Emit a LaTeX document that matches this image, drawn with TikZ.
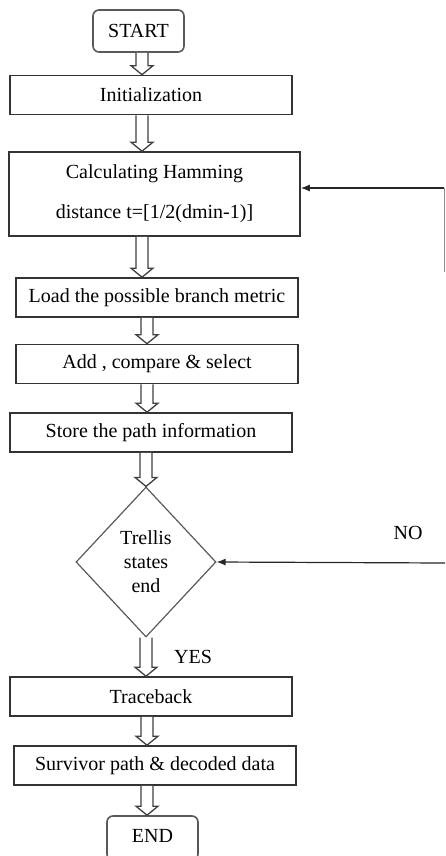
\documentclass[tikz,border=0pt]{standalone}
\usepackage{fontspec}
\setmainfont{Liberation Serif}
\usetikzlibrary{shapes.geometric,arrows.meta,calc}
\tikzset{
  box/.style={draw=black!80, line width=1.6pt, minimum width=282pt, minimum height=39pt, inner sep=0pt, fill=white},
  term/.style={draw=black!65, line width=1.6pt, rounded corners=6pt, minimum width=91pt, minimum height=42pt, inner sep=0pt},
  dec/.style={draw=black!65, line width=1.2pt, diamond, minimum width=140pt, minimum height=150pt, inner sep=0pt, align=center},
  harr/.style={draw=black!75, line width=1.3pt, fill=white, line join=miter},
  fb/.style={draw=black!85, line width=1.2pt},
  lbl/.style={inner sep=0pt},
}
\newcommand{\harrow}[3]{%
  \draw[harr] let \p1=(#1.south), \p2=(#2.north) in
   (#3pt-6pt,\y1) -- (#3pt-6pt,\y2+9pt) -- (#3pt-11pt,\y2+9pt) -- (#3pt,\y2)
   -- (#3pt+11pt,\y2+9pt) -- (#3pt+6pt,\y2+9pt) -- (#3pt+6pt,\y1);}
\begin{document}
\begin{tikzpicture}[x=1pt,y=-1pt, font=\fontsize{20}{24}\selectfont]
\useasboundingbox (0,0) rectangle (445,856);
\node[term] (start) at (138.5,31) {START};
\node[box] (init) at (151,95) {Initialization};
\node[box, minimum width=291pt, minimum height=84pt, align=center] (calc) at (154.5,194) {Calculating Hamming\\[16pt]distance t=[1/2(dmin-1)]};
\node[box] (load) at (157,297.5) {Load the possible branch metric};
\node[box] (add) at (157,364) {Add , compare \& select};
\node[box] (store) at (151,432.5) {Store the path information};
\node[dec] (dec) at (146,562) {Trellis\\states\\end};
\node[box] (trace) at (151,696.5) {Traceback};
\node[box] (surv) at (155,765.5) {Survivor path \& decoded data};
\node[term, minimum height=44pt] (end) at (152.5,838) {\raisebox{4pt}{END}};

\harrow{start}{init}{142}
\harrow{init}{calc}{142}
\harrow{calc}{load}{142}
\harrow{load}{add}{147}
\harrow{add}{store}{147}
\harrow{store}{dec}{146}
\harrow{dec}{trace}{146}
\harrow{trace}{surv}{147}
\harrow{surv}{end}{147}

\coordinate (fbtop) at (444,188);
\coordinate (fbbot) at (444,272);
\coordinate (nostart) at (445,563);
\draw[draw=black!45, line width=1pt] (fbbot) -- (fbtop);
\draw[fb, -{Latex[length=9pt,width=7pt]}] (fbtop) -- (fbtop -| calc.east);
\draw[fb, -{Latex[length=9pt,width=7pt]}] (nostart) -- (dec.east);
\node[lbl] (no) at (408,533) {NO};
\node[lbl] (yes) at (193,657) {YES};
\end{tikzpicture}
\end{document}
